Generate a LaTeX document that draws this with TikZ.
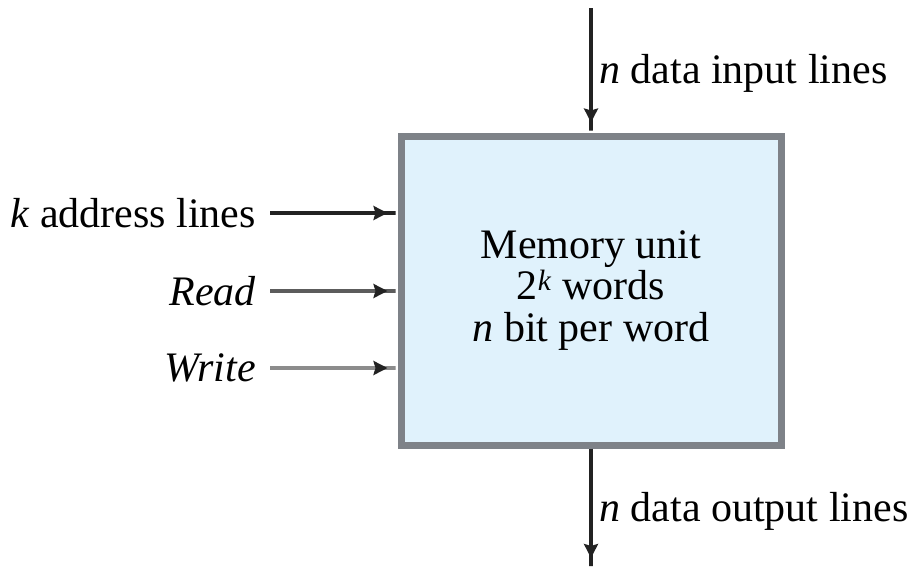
\documentclass[tikz,border=0pt]{standalone}
\usepackage{fontspec}
\setmainfont{Liberation Serif}
\usetikzlibrary{arrows.meta,positioning}
\definecolor{memfill}{HTML}{E0F2FC}
\definecolor{memedge}{HTML}{7E8288}
\definecolor{wiredark}{HTML}{222222}
\definecolor{wiremid}{HTML}{5C5C5C}
\definecolor{wirelight}{HTML}{8C8C8C}
\tikzset{
    unit/.style = {rectangle,draw=memedge,fill=memfill,line width=7pt,text=black,
                   minimum width=380pt,minimum height=309pt,align=center},
    lbl/.style  = {inner sep=0pt,text=black},
    wire/.style = {line width=4pt,
                   -{Stealth[length=14pt,width=14pt,inset=2pt,color=wiredark]Rectangle[length=10pt,width=4pt]}},
    every node/.style = {font=\fontsize{42}{41.5}\selectfont}
}

\begin{document}
\begin{tikzpicture}[x=1pt,y=-1pt,node distance=14pt]
            \useasboundingbox (0,0) rectangle (920,568);
            \node[unit]  (mem)  at (591,290.5) {Memory unit\\2\textsuperscript{\textit{k}} words\\\textit{n} bit per word};

            \coordinate (din)   at (591,8);
            \coordinate (dout)  at (591,568);
            \coordinate (kin)   at (270,213);
            \coordinate (rin)   at (270,291);
            \coordinate (win)   at (270,368);

            \node[lbl,anchor=base west] (dinlbl)  at (599,83)  {\textit{n} data input lines};
            \node[lbl,anchor=base west] (doutlbl) at (599,521) {\textit{n} data output lines};
            \node[lbl,left=of kin]      (klbl)    {\textit{k} address lines};
            \node[lbl,left=of rin]      (rlbl)    {\textit{Read}};
            \node[lbl,left=of win]      (wlbl)    {\textit{Write}};

            \draw[wire,wiredark]  (din) -- (mem.north);
            \draw[wire,wiredark]  (mem.south) -- (dout);
            \draw[wire,wiredark]  (kin) -- (mem.west |- kin);
            \draw[wire,wiremid]   (rin) -- (mem.west |- rin);
            \draw[wire,wirelight] (win) -- (mem.west |- win);
\end{tikzpicture}
\end{document}
